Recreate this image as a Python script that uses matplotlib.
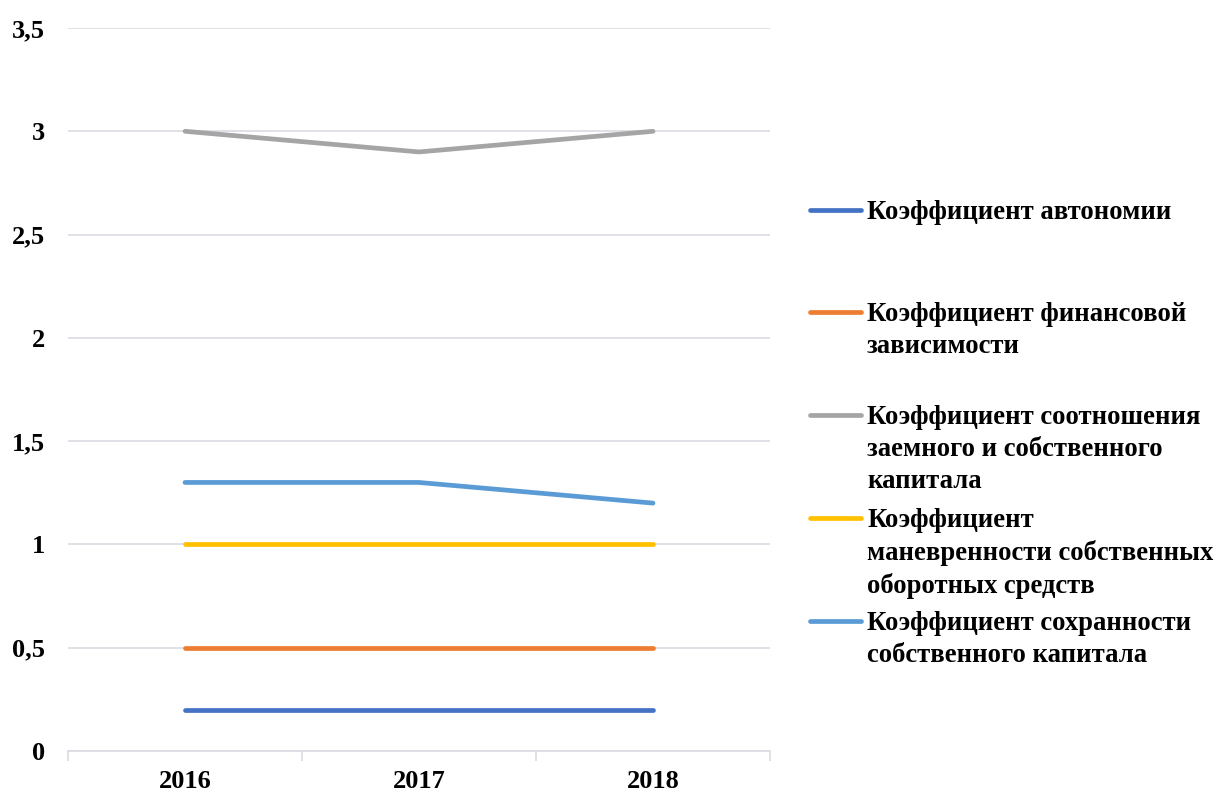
import matplotlib.pyplot as plt
from matplotlib.lines import Line2D
from matplotlib.ticker import FuncFormatter, FixedLocator

years = ["2016", "2017", "2018"]
avtonomii = [0.2, 0.2, 0.2]
fin_zavisimosti = [0.5, 0.5, 0.5]
sootnosheniya = [3.0, 2.9, 3.0]
manevrennosti = [1.0, 1.0, 1.0]
sokhrannosti = [1.3, 1.3, 1.2]

labels = [
    "Коэффициент автономии",
    "Коэффициент финансовой\nзависимости",
    "Коэффициент соотношения\nзаемного и собственного\nкапитала",
    "Коэффициент\nманевренности собственных\nоборотных средств",
    "Коэффициент сохранности\nсобственного капитала",
]
series = [avtonomii, fin_zavisimosti, sootnosheniya, manevrennosti, sokhrannosti]
colors = ["#4472C4", "#ED7D31", "#A5A5A5", "#FFC000", "#5B9BD5"]

plt.rcParams['font.family'] = ['Liberation Serif', 'DejaVu Serif']
plt.rcParams['font.weight'] = 'bold'

W, H = 1218, 794
fig = plt.figure(figsize=(W / 100, H / 100), dpi=100)
ax = fig.add_axes([68 / W, 1 - 751 / H, (770 - 68) / W, (751 - 28) / H])

x = list(range(len(years)))
for vals, c in zip(series, colors):
    ax.plot(x, vals, color=c, linewidth=3.4, solid_capstyle='round')

ax.set_xlim(-0.5, len(years) - 0.5)
ax.set_ylim(0, 3.5)
ax.set_yticks([0, 0.5, 1, 1.5, 2, 2.5, 3, 3.5])
ax.yaxis.set_major_formatter(FuncFormatter(lambda v, p: ("%g" % v).replace(".", ",")))
ax.grid(axis='y', color='#d9dce1', linewidth=1.2)
ax.set_axisbelow(True)

ax.set_xticks(x)
ax.set_xticklabels(years)
ax.xaxis.set_minor_locator(FixedLocator([-0.5, 0.5, 1.5, 2.5]))
ax.tick_params(axis='x', which='major', length=0, pad=14, labelsize=19)
ax.tick_params(axis='x', which='minor', length=7, width=1.2, color='#d9dce1')
ax.tick_params(axis='y', length=0, pad=16.5, labelsize=19)

for s in ['top', 'right', 'left']:
    ax.spines[s].set_visible(False)
ax.spines['bottom'].set_color('#d9dce1')
ax.spines['bottom'].set_linewidth(1.2)

# legend drawn by hand, entries evenly spaced like in Excel
leg_y = [210, 312, 415, 518, 621]
for lab, c, ly in zip(labels, colors, leg_y):
    yf = 1 - ly / H
    fig.add_artist(Line2D([810 / W, 861 / W], [yf, yf], color=c, linewidth=3.4,
                          solid_capstyle='round'))
    fig.text(867 / W, 1 - (ly - 10) / H, lab, ha='left', va='top', fontsize=19.2,
             fontweight='bold', linespacing=1.36)

fig.savefig("out.png", dpi=100)
